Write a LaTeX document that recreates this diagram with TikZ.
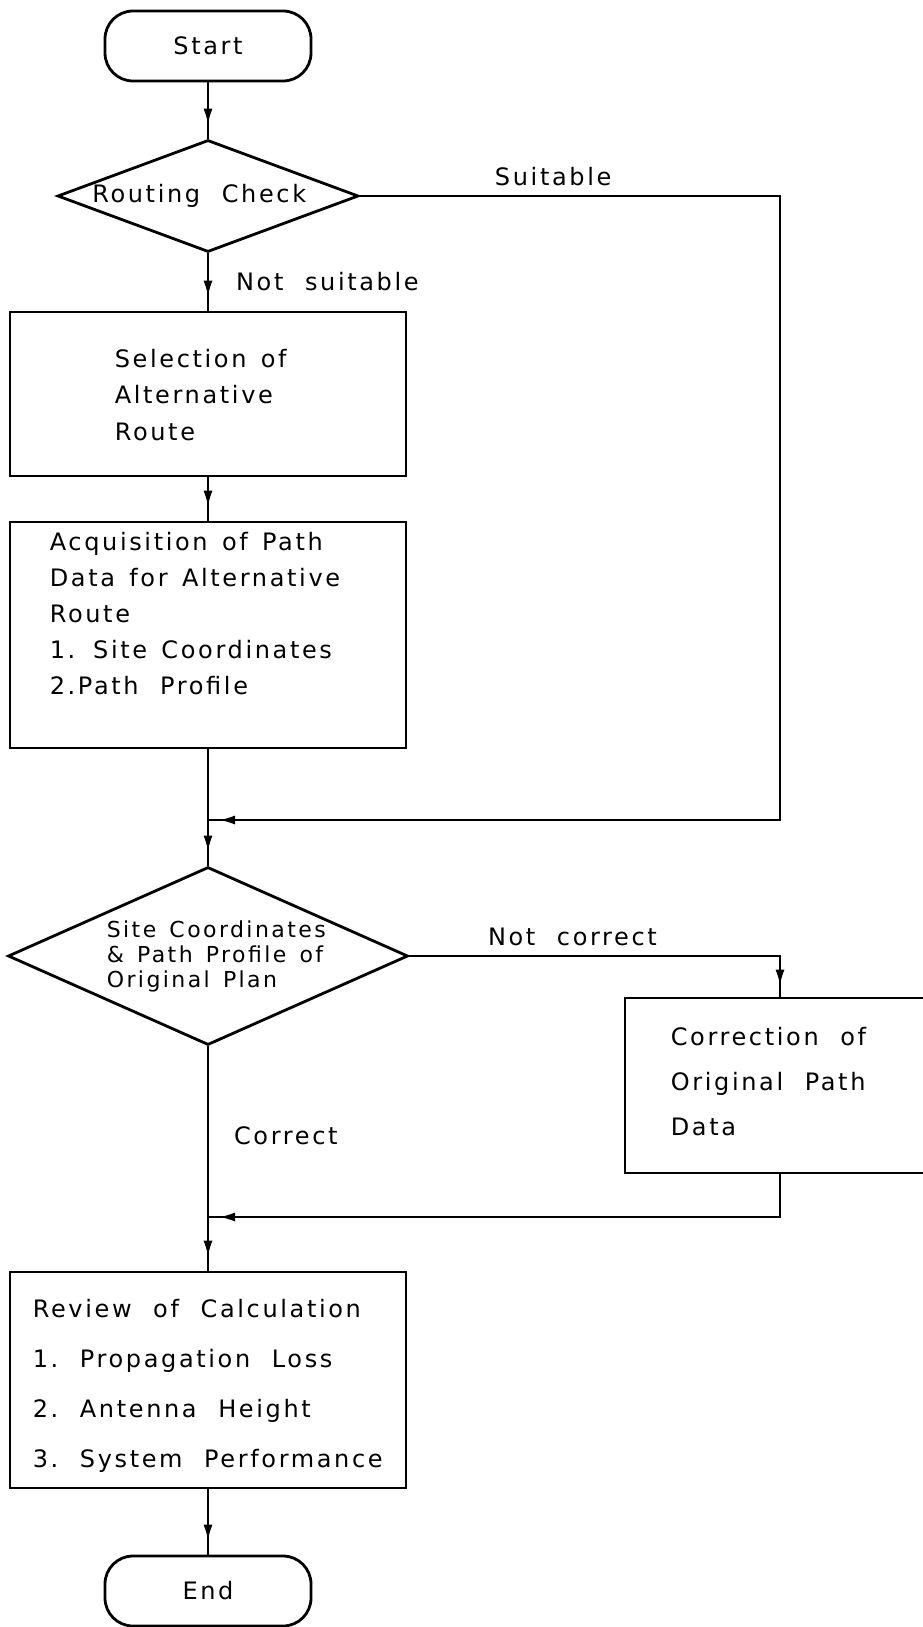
\documentclass[tikz,border=0pt]{standalone}
\usepackage{fontspec}
\setmainfont{DejaVu Sans}[LetterSpace=11,WordSpace=1.4]
\usetikzlibrary{positioning,shapes.geometric,arrows.meta,decorations.markings}

\newcommand{\wsp}{\hspace{0.9em}}

\begin{document}
\begin{tikzpicture}[x=1pt,y=-1pt,
    font=\fontsize{24}{29}\selectfont,
    terminal/.style={draw,line width=2.8pt,rounded corners=28pt,minimum width=206pt,minimum height=70pt,inner sep=0pt},
    box/.style={draw,line width=2.8pt,inner sep=0pt},
    decision/.style={draw,diamond,line width=2.8pt,inner sep=0pt},
    lines/.style={align=left,inner sep=0pt,execute at begin node={\setlength{\baselineskip}{#1}}},
    tag/.style={inner sep=0pt},
    flow/.style={line width=2.2pt,decoration={markings,mark=at position -#1 with {\arrow[line width=1pt]{Latex[length=15pt,width=9pt]}}},postaction={decorate}},
    flow/.default=15pt]
    \useasboundingbox (0,0) rectangle (923,1627);

    \node [terminal] (start) at (208,46) {Start};
    \node [decision,minimum width=301pt,minimum height=112pt] (route) at (208,196) {};
    \node [tag,right=36pt of route.west] (routetxt) {Routing\wsp Check};

    \node [box,minimum width=396pt,minimum height=164pt] (sel) at (208,394) {};
    \node [lines=36.5pt,below right=38pt and 106pt of sel.north west] (seltxt) {Selection of\\Alternative\\Route};

    \node [box,minimum width=396pt,minimum height=226pt] (acq) at (208,635) {};
    \node [lines=36pt,below right=11pt and 41pt of acq.north west] (acqtxt) {Acquisition of Path\\Data for Alternative\\Route\\1. Site Coordinates\\2.Path\wsp Profile};

    \node [decision,minimum width=400pt,minimum height=178pt] (site) at (208,956) {};
    \node [lines=25pt,font=\fontsize{22}{25}\selectfont,right=100pt of site.west] (sitetxt) {Site Coordinates\\\&~Path Profile of\\Original Plan};

    \node [box,minimum width=310pt,minimum height=175pt] (cor) at (780,1085.5) {};
    \node [lines=45pt,below right=30pt and 47pt of cor.north west] (cortxt) {Correction\wsp of\\Original\wsp Path\\Data};

    \node [box,minimum width=396pt,minimum height=216pt] (rev) at (208,1380) {};
    \node [lines=50pt,below right=28pt and 24pt of rev.north west] (revtxt) {Review\wsp of\wsp Calculation\\1.\wsp Propagation\wsp Loss\\2.\wsp Antenna\wsp Height\\3.\wsp System\wsp Performance};

    \node [terminal] (fin) at (208,1591) {End};

    \coordinate (turnA) at (780,196);
    \coordinate (joinA) at (208,820);
    \coordinate (joinB) at (208,1217);

    \draw [flow] (start) -- (route);
    \draw [flow] (route) -- node [tag,right=27pt,pos=0.5] {Not\wsp suitable} (sel);
    \draw [flow] (sel) -- (acq);
    \draw [flow] (acq) -- (site);
    \draw [flow] (site) -- node [tag,right=25pt,pos=0.4] {Correct} (rev);
    \draw [flow] (rev) -- (fin);
    \draw [flow=12pt] (route.east) -- node [tag,above=9pt,pos=0.46] {Suitable} (turnA) |- (joinA);
    \draw [flow=12pt] (site.east) -| node [tag,above=9pt,pos=0.22] {Not\wsp correct} (cor.north);
    \draw [flow=12pt] (cor.south) |- (joinB);
\end{tikzpicture}
\end{document}
